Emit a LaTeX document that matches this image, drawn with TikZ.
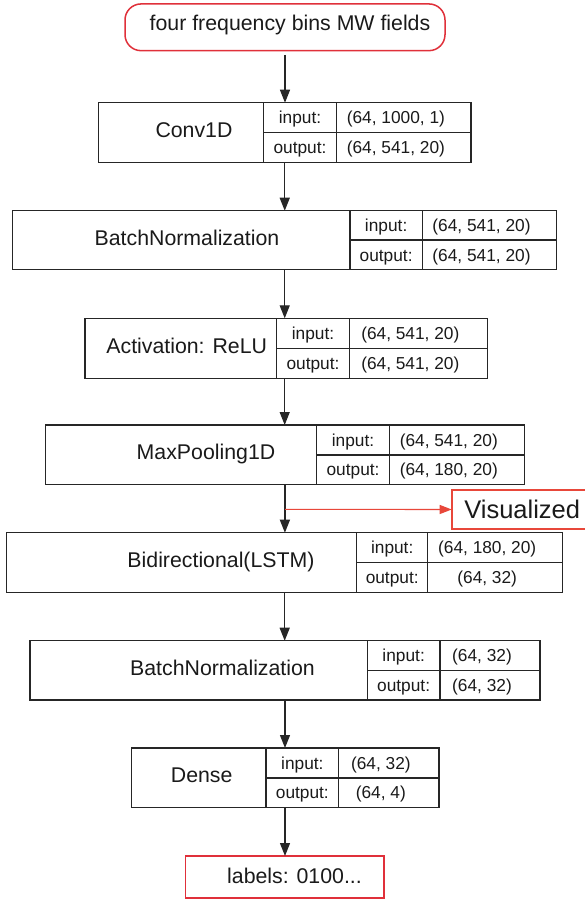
\documentclass[tikz,border=0pt]{standalone}
\usepackage{fontspec}
\setmainfont{Liberation Sans}
\usetikzlibrary{arrows.meta}
\definecolor{ink}{HTML}{1A1A1A}
\definecolor{edgec}{HTML}{262626}
\definecolor{redb}{HTML}{E0303A}
\definecolor{redv}{HTML}{E8473A}
\tikzset{
  boxline/.style={draw=edgec, line width=1.3pt},
  layerbox/.style={boxline, rectangle, inner sep=0pt, outer sep=0pt, anchor=north west},
  bigtxt/.style={inner sep=0pt, text height=15.2pt, text depth=0pt, text=ink, font=\fontsize{21.3}{21.3}\selectfont},
  smalltxt/.style={inner sep=0pt, text height=12.4pt, text depth=0pt, text=ink, font=\fontsize{17.3}{17.3}\selectfont},
  flow/.style={draw=edgec, line width=1.3pt, -{Triangle[length=13pt,width=10pt]}},
  vflow/.style={draw=redv, line width=1.1pt, -{Triangle[length=12pt,width=9pt]}},
  redround/.style={draw=redb, line width=1.5pt, rounded corners=16pt, inner sep=0pt, outer sep=0pt},
  redrect/.style={draw=redb, line width=1.5pt, inner sep=0pt, outer sep=0pt},
}
% #1 name, #2 left, #3 right, #4 top, #5 bottom, #6 div1, #7 div2, #8 label, #9 label x
\newcommand\mklayer[9]{%
  \node[layerbox, minimum width={(#3)-(#2)}, minimum height={(#5)-(#4)}] (#1) at (#2,#4) {};
  \draw[boxline] (#6,#4) -- (#6,#5) (#7,#4) -- (#7,#5) (#6,{(#4+#5)/2}) -- (#3,{(#4+#5)/2});
  \node[bigtxt] (#1-name) at (#9,{(#4+#5)/2-2.5}) {#8};
  \node[smalltxt] (#1-inl) at ({(#6+#7)/2},{(3*#4+#5)/4}) {input:};
  \node[smalltxt] (#1-outl) at ({(#6+#7)/2},{(#4+3*#5)/4}) {output:};
  \coordinate (#1-inv) at ({(#7+#3)/2-8},{(3*#4+#5)/4});
  \coordinate (#1-outv) at ({(#7+#3)/2-8},{(#4+3*#5)/4});
}
\begin{document}
\begin{tikzpicture}[x=1pt, y=-1pt]
\path[use as bounding box] (0,0) rectangle (585,899);
\clip (0,0) rectangle (585,899);
\fill[white] (0,0) rectangle (585,899);

% input node
\node[redround, minimum width=320pt, minimum height=46.7pt] (input) at (285,27.3) {};
\node[bigtxt] (input-txt) at (290,23) {four frequency bins MW fields};

\mklayer{conv}{98.5}{471}{102.7}{162.3}{263.3}{336.7}{Conv1D}{194}
\node[smalltxt] (conv-a) at (conv-inv) {(64, 1000, 1)};
\node[smalltxt] (conv-b) at (conv-outv) {(64, 541, 20)};

\mklayer{bnA}{12.7}{556.7}{210.7}{269.5}{350}{422.3}{BatchNormalization}{187}
\node[smalltxt] (bnA-a) at (bnA-inv) {(64, 541, 20)};
\node[smalltxt] (bnA-b) at (bnA-outv) {(64, 541, 20)};

\mklayer{act}{85}{487.3}{318.3}{378.3}{276.7}{349.3}{Activation: ReLU}{186.7}
\node[smalltxt] (act-a) at (act-inv) {(64, 541, 20)};
\node[smalltxt] (act-b) at (act-outv) {(64, 541, 20)};

\mklayer{pool}{45.5}{524.3}{425}{484.7}{316.8}{389.3}{MaxPooling1D}{206}
\node[smalltxt] (pool-a) at (pool-inv) {(64, 541, 20)};
\node[smalltxt] (pool-b) at (pool-outv) {(64, 180, 20)};

\mklayer{lstm}{6.7}{562.7}{532.7}{592.3}{356.7}{427.7}{Bidirectional(LSTM)}{221}
\node[smalltxt] (lstm-a) at (lstm-inv) {(64, 180, 20)};
\node[smalltxt] (lstm-b) at (lstm-outv) {(64, 32)};

\mklayer{bnB}{30}{540}{640.7}{700}{367.3}{440}{BatchNormalization}{222.5}
\node[smalltxt] (bnB-a) at (bnB-inv) {(64, 32)};
\node[smalltxt] (bnB-b) at (bnB-outv) {(64, 32)};

\mklayer{dense}{131.7}{439}{748}{807.7}{266}{338.7}{Dense}{201.7}
\node[smalltxt] (dense-a) at (dense-inv) {(64, 32)};
\node[smalltxt] (dense-b) at (dense-outv) {(64, 4)};

% output node
\node[redrect, minimum width=198.3pt, minimum height=42pt] (labels) at (284.85,877) {};
\node[bigtxt] (labels-txt) at (294.5,876) {labels: 0100...};

% visualized node
\node[draw=redv, line width=1.6pt, outer sep=0pt, inner ysep=0pt, inner xsep=12.6pt, minimum height=39pt, anchor=west,
      text height=18.3pt, text depth=0pt, text=ink, font=\fontsize{25.5}{25.5}\selectfont] (vis) at (451.7,509.5) {Visualized};

% connectors
\coordinate (top-out) at (285,55);
\draw[flow] (top-out) -- (top-out |- conv.north);
\draw[flow] (conv.south) -- (conv.south |- bnA.north);
\draw[flow] (bnA.south) -- (bnA.south |- act.north);
\draw[flow] (bnA.south |- act.south) -- (bnA.south |- pool.north);
\draw[flow] (pool.south) -- (pool.south |- lstm.north);
\draw[flow] (lstm.south) -- (lstm.south |- bnB.north);
\draw[flow] (bnB.south) -- (bnB.south |- dense.north);
\draw[flow] (bnB.south |- dense.south) -- (bnB.south |- labels.north);
\coordinate (split) at (285,509.3);
\draw[vflow] (split) -- (vis.west);
\end{tikzpicture}
\end{document}
